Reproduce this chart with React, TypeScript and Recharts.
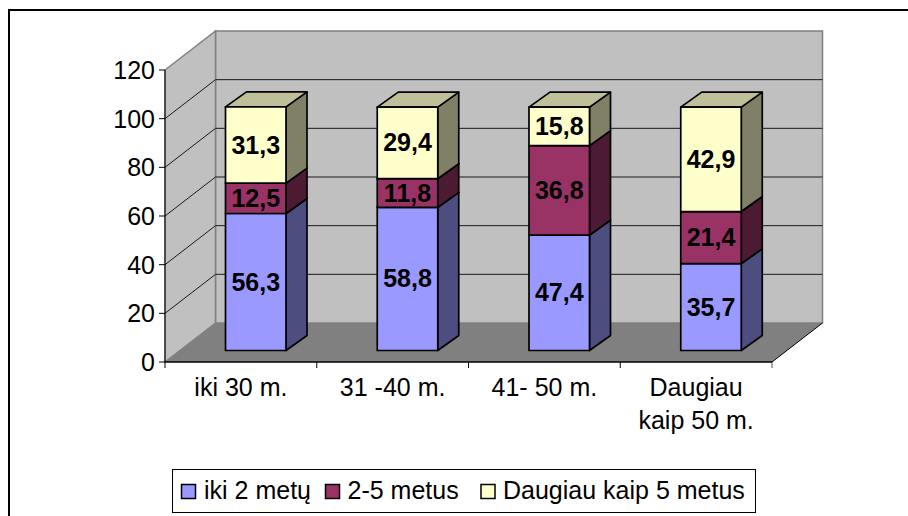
import React from "react";
import { BarChart, Bar, XAxis, YAxis, Legend, LabelList, usePlotArea } from "recharts";

const categories = [["iki 30 m."], ["31 -40 m."], ["41- 50 m."], ["Daugiau", "kaip 50 m."]];
const shortTerm = [56.3, 58.8, 47.4, 35.7];
const midTerm = [12.5, 11.8, 36.8, 21.4];
const longTerm = [31.3, 29.4, 15.8, 42.9];
const seriesNames = ["iki 2 metų", "2-5 metus", "Daugiau kaip 5 metus"];
const yTicks = [0, 20, 40, 60, 80, 100, 120];

const FRONT = ["#9999ff", "#993366", "#ffffcc"];
const SIDE = ["#4d4d80", "#4d1a33", "#808066"];
const TOP = ["#ccccff", "#cc6699", "#bfbf99"];

const FONT = "'Liberation Sans', Arial, sans-serif";
const FONT_SIZE = 25;
const DEPTH_X = 50.5;
const DEPTH_Y = 39;
const BAR_DX = 21;
const BAR_DY = 15;
const SHIFT_X = 14.5;
const SHIFT_Y = -11.5;

const data = categories.map((c, i) => ({
  name: c.join(" "),
  a: shortTerm[i],
  b: midTerm[i],
  c: longTerm[i],
}));

function Walls() {
  const plot = usePlotArea();
  if (!plot) return null;
  const { x, y, width, height } = plot;
  const bottom = y + height;
  const right = x + width;
  const bx = x + DEPTH_X;
  const yOf = (v: number) => bottom - (v / 120) * height;
  const band = width / categories.length;
  return (
    <g>
      <rect x={bx} y={y - DEPTH_Y} width={width} height={height} fill="#c0c0c0" stroke="#808080" strokeWidth={1.5} />
      <polygon points={`${x},${y} ${bx},${y - DEPTH_Y} ${bx},${bottom - DEPTH_Y} ${x},${bottom}`} fill="#c0c0c0" stroke="#808080" strokeWidth={1.5} />
      <polygon points={`${x},${bottom} ${right},${bottom} ${bx + width},${bottom - DEPTH_Y} ${bx},${bottom - DEPTH_Y}`} fill="#808080" />
      {yTicks.slice(1, -1).map((v) => (
        <g key={v}>
          <line x1={bx} x2={bx + width} y1={yOf(v) - DEPTH_Y} y2={yOf(v) - DEPTH_Y} stroke="#1a1a1a" strokeWidth={1} />
          <line x1={x} x2={bx} y1={yOf(v)} y2={yOf(v) - DEPTH_Y} stroke="#1a1a1a" strokeWidth={1} />
        </g>
      ))}
      <line x1={right} x2={bx + width} y1={bottom} y2={bottom - DEPTH_Y} stroke="#000" strokeWidth={1} />
      {categories.map((_, i) => (
        <line key={i} x1={x + band * i} x2={x + band * i} y1={bottom} y2={bottom + 6} stroke="#000" />
      ))}
      <line x1={right} x2={right} y1={bottom} y2={bottom + 6} stroke="#555" />
    </g>
  );
}

function box(index: number) {
  return (props: any) => {
    const { x, y, width, height } = props;
    const l = x + SHIFT_X;
    const t = y + SHIFT_Y;
    const r = l + width;
    const b = t + height;
    return (
      <g stroke="#000" strokeWidth={1.7} strokeLinejoin="round">
        <polygon points={`${r},${t} ${r + BAR_DX},${t - BAR_DY} ${r + BAR_DX},${b - BAR_DY} ${r},${b}`} fill={SIDE[index]} />
        <polygon points={`${l},${t} ${l + BAR_DX},${t - BAR_DY} ${r + BAR_DX},${t - BAR_DY} ${r},${t}`} fill={TOP[index]} />
        <rect x={l} y={t} width={width} height={height} fill={FRONT[index]} />
      </g>
    );
  };
}

function valueLabel(props: any) {
  const { x, y, width, height, value } = props;
  return (
    <text
      x={x + width / 2 + SHIFT_X}
      y={y + height / 2 + SHIFT_Y + 8.5}
      textAnchor="middle"
      fontFamily={FONT}
      fontSize={FONT_SIZE}
      fontWeight={700}
      fill="#000"
    >
      {String(value).replace(".", ",")}
    </text>
  );
}

function CategoryTick(props: any) {
  const { x, y, index } = props;
  return (
    <text x={x} y={y + 26} textAnchor="middle" fontFamily={FONT} fontSize={FONT_SIZE} fill="#000">
      {categories[index].map((line, i) => (
        <tspan key={i} x={x} dy={i === 0 ? 0 : 32.5}>
          {line}
        </tspan>
      ))}
    </text>
  );
}

function LegendBox() {
  const swatchX = [9.5, 153.5, 309];
  const textX = [32, 175.5, 331];
  return (
    <svg width={584} height={44} style={{ display: "block", overflow: "visible" }}>
      <rect x={0.5} y={0.5} width={583} height={43} fill="#fff" stroke="#000" />
      {seriesNames.map((name, i) => (
        <g key={name}>
          <rect x={swatchX[i]} y={15.5} width={14} height={14} fill={FRONT[i]} stroke="#000" strokeWidth={1.5} />
          <text x={textX[i]} y={30} fontFamily={FONT} fontSize={FONT_SIZE} fill="#000">
            {name}
          </text>
        </g>
      ))}
    </svg>
  );
}

export default function App() {
  return (
    <div style={{ position: "absolute", left: 0, top: 0, width: 908, height: 516, background: "#fff", overflow: "hidden" }}>
      <div style={{ position: "absolute", left: 8, top: 9, right: 0, height: 2, background: "#000" }} />
      <div style={{ position: "absolute", left: 8, top: 9, width: 2, bottom: 0, background: "#000" }} />
      <BarChart
        width={908}
        height={516}
        data={data}
        barSize={60.5}
        margin={{ top: 70, right: 136, bottom: 94, left: 105 }}
        style={{ position: "absolute", left: 0, top: 0 }}
      >
        <Walls />
        <XAxis
          dataKey="name"
          height={60}
          axisLine={{ stroke: "#000", strokeWidth: 1.5 }}
          tickLine={false}
          interval={0}
          tick={CategoryTick}
        />
        <YAxis
          width={60}
          domain={[0, 120]}
          ticks={yTicks}
          axisLine={{ stroke: "#000", strokeWidth: 1 }}
          tickLine={{ stroke: "#000" }}
          tickSize={6}
          tickMargin={4}
          tick={{ fontFamily: FONT, fontSize: FONT_SIZE, fill: "#000" }}
        />
        <Bar dataKey="a" stackId="s" name={seriesNames[0]} fill={FRONT[0]} shape={box(0)} isAnimationActive={false}>
          <LabelList dataKey="a" content={valueLabel} />
        </Bar>
        <Bar dataKey="b" stackId="s" name={seriesNames[1]} fill={FRONT[1]} shape={box(1)} isAnimationActive={false}>
          <LabelList dataKey="b" content={valueLabel} />
        </Bar>
        <Bar dataKey="c" stackId="s" name={seriesNames[2]} fill={FRONT[2]} shape={box(2)} isAnimationActive={false}>
          <LabelList dataKey="c" content={valueLabel} />
        </Bar>
        <Legend
          layout="horizontal"
          align="center"
          verticalAlign="middle"
          content={LegendBox}
          wrapperStyle={{ left: 172, top: 469, width: 584, height: 44 }}
        />
      </BarChart>
    </div>
  );
}
